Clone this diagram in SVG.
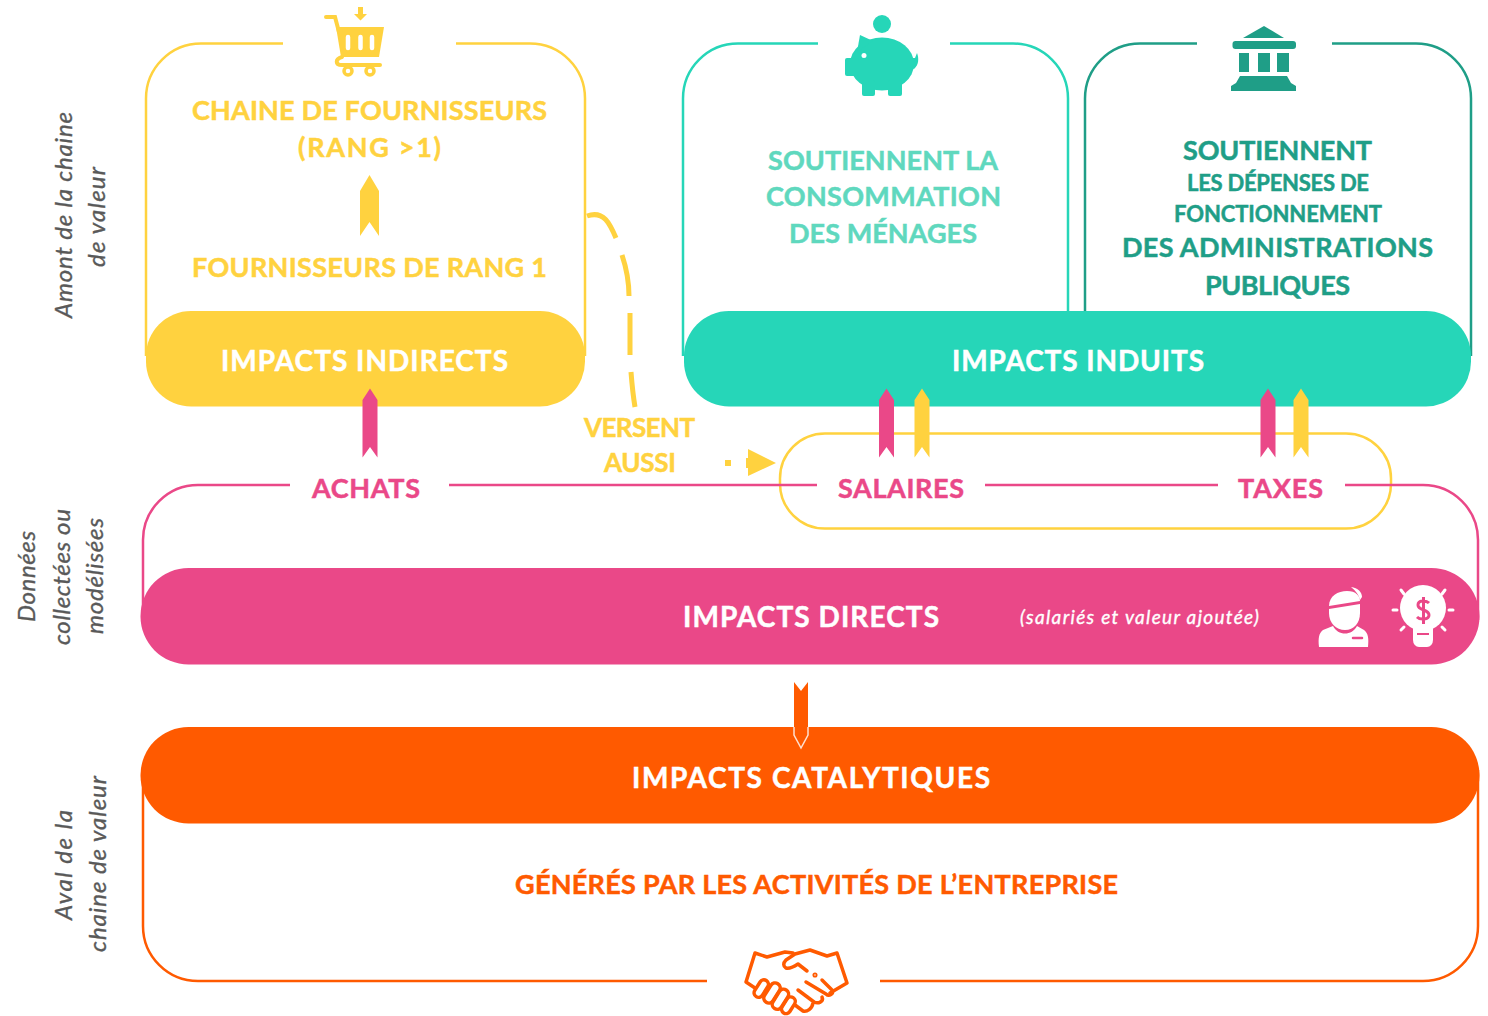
<svg xmlns="http://www.w3.org/2000/svg" width="1488" height="1016" viewBox="0 0 1488 1016">
<style>
text{font-family:"Lato","Liberation Sans",sans-serif;font-weight:700;text-anchor:middle;stroke-width:.5px}
.box{fill:none;stroke-width:2.500px}
.y{fill:#FFD23F}.g{fill:#26D6B8}.d{fill:#1F9E87}.p{fill:#EA4888}.o{fill:#FF5A00}.w{fill:#fff}.l{fill:#5FD8BE}
text.y{stroke:#FFD23F}text.d{stroke:#1F9E87}text.p{stroke:#EA4888}text.o{stroke:#FF5A00}text.w{stroke:#fff}text.l{stroke:#5FD8BE}
.sy{stroke:#FFD23F}.sg{stroke:#26D6B8}.sd{stroke:#1F9E87}.sp{stroke:#EA4888}.so{stroke:#FF5A00}
.t28{font-size:28px}.t27{font-size:27px}.t21{font-size:22px}
.side{font-size:24px;font-weight:400;font-style:italic;fill:#595959;stroke:#595959;stroke-width:.35px}
</style>
<defs>
<path id="rib" d="M-7.500 -39L0 -50.500L7.500 -39V18.500L0 8L-7.500 18.500Z"/>
</defs>
<rect width="1488" height="1016" fill="#fff"/>
<g id="side-labels">
<text class="side" transform="translate(72 215) rotate(-90)" textLength="206">Amont de la chaine</text>
<text class="side" transform="translate(105 217) rotate(-90)" textLength="100">de valeur</text>
<text class="side" transform="translate(35 576.500) rotate(-90)" textLength="91">Données</text>
<text class="side" transform="translate(70 577) rotate(-90)" textLength="136">collectées ou</text>
<text class="side" transform="translate(103 576) rotate(-90)" textLength="116">modélisées</text>
<text class="side" transform="translate(72 865) rotate(-90)" textLength="110">Aval de la</text>
<text class="side" transform="translate(106 864) rotate(-90)" textLength="176">chaine de valeur</text>
</g>
<g id="node-salaires-taxes-frame">
<rect class="box sy" x="780" y="433.500" width="611" height="95" rx="45"/>
</g>
<g id="node-directs">
<path class="box sp" d="M290 485H198A55 55 0 0 0 143 540V620M449 485H817M985 485H1218M1345 485H1423A55 55 0 0 1 1478 540V620"/>
<rect class="p" x="140.500" y="568" width="1339" height="96.500" rx="48"/>
<text class="w t28" x="811" y="627" textLength="256">IMPACTS DIRECTS</text>
<text class="w" x="1139.500" y="624" textLength="239" style="font-size:19px;font-style:italic;font-weight:400;stroke-width:.35px">(salariés et valeur ajoutée)</text>
<g id="icon-employee">
<path class="w" d="M1329 606C1329 596 1338 591 1347 591C1356 591 1360 596 1360 601Z"/>
<path class="w" d="M1329 609L1360 604V613C1360 623 1354 630 1345 630C1336 630 1329 623 1329 613Z"/>
<path class="w" d="M1351 587C1358 588 1362 592 1362 597L1360 600C1359 595 1356 591 1351 587Z"/>
<path class="w" d="M1333 626C1338 636 1352 636 1357 626L1364 630C1368 633 1369 638 1368 647H1319C1318 638 1319 633 1323 630Z"/>
<path d="M1353 638H1362" stroke="#EA4888" stroke-width="2.500" stroke-linecap="round" fill="none"/>
</g>
<g id="icon-idea">
<circle class="w" cx="1423" cy="608" r="23"/>
<path class="w" d="M1413 625H1433V640A6 7 0 0 1 1427 647H1419A6 7 0 0 1 1413 640Z"/>
<path d="M1417 634H1429" stroke="#EA4888" stroke-width="2" fill="none"/>
<path d="M1429 603C1426 600 1418 600 1418 605C1418 611 1429 609 1429 615C1429 620 1420 620 1417 617M1423.500 597V624" fill="none" stroke="#EA4888" stroke-width="3"/>
<path d="M1393 610H1397M1449 610H1453M1401 590L1404 594M1445 590L1442 594M1401 630L1404 627M1445 630L1442 627" stroke="#fff" stroke-width="3" stroke-linecap="round" fill="none"/>
</g>
</g>
<g id="node-indirects">
<path class="box sy" d="M283 43.500H201A55 55 0 0 0 146 98.500V356M456 43.500H530A55 55 0 0 1 585 98.500V356"/>
<rect class="y" x="146" y="311" width="439" height="95.500" rx="45"/>
<text class="w t28" x="364.500" y="371" textLength="287">IMPACTS INDIRECTS</text>
<text class="y t27" x="369.500" y="120" textLength="355">CHAINE DE FOURNISSEURS</text>
<text class="y t27" x="369.500" y="157" textLength="143">(RANG &gt;1)</text>
<text class="y t27" x="369.500" y="277" textLength="355">FOURNISSEURS DE RANG 1</text>
<path class="y" d="M360 191L369.500 175L379 191V236L369.500 222L360 236Z"/>
<g id="icon-cart">
<path class="y" d="M358 7H363V14H367L360.500 20.500L354 14H358Z"/>
<path d="M326 17H335L339 32" fill="none" stroke="#FFD23F" stroke-width="4" stroke-linecap="round"/>
<path class="y" d="M336 27H384L379 57H341Z"/>
<path d="M348 37V48M360.500 37V48M372 37V48" stroke="#fff" stroke-width="4.500" stroke-linecap="round"/>
<path d="M342 57C335 59 335 65 342 65H380" fill="none" stroke="#FFD23F" stroke-width="4" stroke-linecap="round"/>
<circle cx="348" cy="71" r="4" fill="#fff" stroke="#FFD23F" stroke-width="3.500"/>
<circle cx="370" cy="71" r="4" fill="#fff" stroke="#FFD23F" stroke-width="3.500"/>
</g>
</g>
<g id="node-induits">
<path class="box sg" d="M818 43.500H738A55 55 0 0 0 683 98.500V356M950 43.500H1013A55 55 0 0 1 1068 98.500V311"/>
<path class="box sd" d="M1197 43.500H1140A55 55 0 0 0 1085 98.500V311M1332 43.500H1416A55 55 0 0 1 1471 98.500V356"/>
<rect class="g" x="684" y="311" width="787" height="95.500" rx="45"/>
<text class="w t28" x="1078" y="371" textLength="252">IMPACTS INDUITS</text>
<text class="l t27" x="883" y="170" textLength="230">SOUTIENNENT LA</text>
<text class="l t27" x="883.500" y="206" textLength="235">CONSOMMATION</text>
<text class="l t27" x="883" y="243" textLength="188">DES MÉNAGES</text>
<text class="d t27" x="1277.500" y="160" textLength="189">SOUTIENNENT</text>
<text class="d t21" x="1278" y="191" textLength="182">LES DÉPENSES DE</text>
<text class="d t21" x="1278" y="222" textLength="208">FONCTIONNEMENT</text>
<text class="d t27" x="1277.500" y="257" textLength="311">DES ADMINISTRATIONS</text>
<text class="d t27" x="1277.500" y="295" textLength="145">PUBLIQUES</text>
<g id="icon-piggy" class="g">
<circle cx="882" cy="24" r="9"/>
<ellipse cx="882" cy="64" rx="32" ry="26.500"/>
<path d="M860 35L873 41L857 52Z"/>
<rect x="845" y="58" width="14" height="18" rx="2"/>
<rect x="862" y="80" width="13" height="16" rx="2"/>
<rect x="888" y="80" width="14" height="16" rx="2"/>
<path d="M910 58L915 58L917 53C919 58 919 65 914 69L910 68Z"/>
<circle cx="864" cy="55.500" r="2.500" fill="#fff"/>
</g>
<g id="icon-bank" class="d">
<path d="M1243 38L1264 26L1284 38Z"/>
<rect x="1232.500" y="41" width="63.500" height="8" rx="3"/>
<rect x="1239" y="53" width="10" height="19"/>
<rect x="1258" y="53" width="12" height="19"/>
<rect x="1277" y="53" width="12" height="19"/>
<path d="M1240 76H1287L1291 83L1296 86V91H1231V86L1236 83Z"/>
</g>
</g>
<g id="node-catalytiques">
<path class="box so" d="M143 770V926A55 55 0 0 0 198 981H707M880 981H1423A55 55 0 0 0 1478 926V770"/>
<rect class="o" x="140.500" y="727" width="1339" height="96.500" rx="48"/>
<text class="w t28" x="811" y="788" textLength="358">IMPACTS CATALYTIQUES</text>
<text class="o t27" x="816.500" y="894" textLength="603">GÉNÉRÉS PAR LES ACTIVITÉS DE L’ENTREPRISE</text>
<g id="icon-handshake" fill="none" stroke="#FF5A00" stroke-width="3.500" stroke-linejoin="round" stroke-linecap="round">
<path d="M755 953L767 957L785 952L793 953M755 988L746 982L755 953"/>
<path d="M807 971L798 964C795 966 790 969 786 968C783 966 783 963 786 960L795 954L810 950L827 956L837 953L847 983L830 993"/>
<path d="M822 980L832 990C834 994 829 997 826 994L806 982M822 997C824 1002 818 1004 814 1002L798 990M813 1003C812 1009 807 1012 803 1011L795 1005"/>
<rect x="756.500" y="979" width="9" height="19" rx="4.500" transform="rotate(32 761 989)"/>
<rect x="767" y="982" width="10" height="22" rx="5" transform="rotate(32 772 993)"/>
<rect x="775.500" y="988" width="10" height="22" rx="5" transform="rotate(32 780 999)"/>
<rect x="784" y="996" width="9" height="18" rx="4.500" transform="rotate(32 788 1005)"/>
<circle cx="815" cy="975" r=".8" fill="#FF5A00"/>
</g>
</g>
<g id="connectors">
<use href="#rib" class="p" x="886.500" y="439"/>
<use href="#rib" class="y" x="922" y="439"/>
<use href="#rib" class="p" x="1268" y="439"/>
<use href="#rib" class="y" x="1301" y="439"/>
<use href="#rib" class="p" x="370" y="439"/>
<path d="M587 216C604 210 610 224 616 238M622 255C627 270 629 280 629 296M630 313V355M631 372C632 385 633 395 635 407" fill="none" stroke="#FFD23F" stroke-width="5"/>
<text class="y" x="639.500" y="437" textLength="111" style="font-size:26px">VERSENT</text>
<text class="y" x="640" y="472" textLength="72" style="font-size:26px">AUSSI</text>
<rect class="y" x="725" y="460" width="6" height="6"/>
<path class="y" d="M748 449L776 463L748 476V468H746V458H748Z"/>
<path class="o" d="M794 682L801 691L808 682V735L801 748L794 735Z"/>
<path d="M794 727V735L801 748L808 735V727" fill="none" stroke="#FFE0CF" stroke-width="1.500"/>
</g>
<g id="labels">
<text class="p t27" x="366" y="498" textLength="108">ACHATS</text>
<text class="p t27" x="901" y="498" textLength="126">SALAIRES</text>
<text class="p t27" x="1280.500" y="498" textLength="85">TAXES</text>
</g>
</svg>
